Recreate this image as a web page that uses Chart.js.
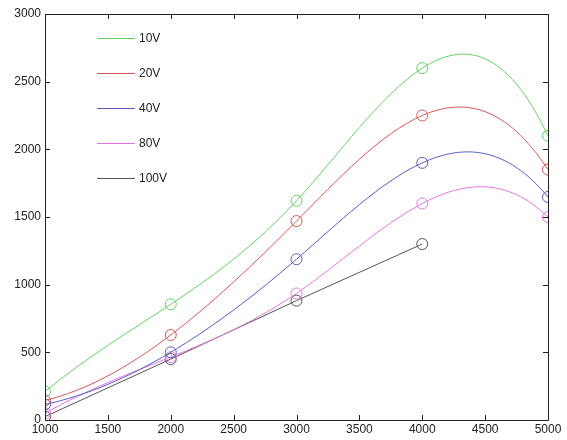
<!DOCTYPE html>
<html>
<head>
<meta charset="utf-8">
<script src="https://cdn.jsdelivr.net/npm/chart.js@4/dist/chart.umd.min.js"></script>
<style>
html,body{margin:0;padding:0;background:#fff;}
#wrap{width:567px;height:440px;position:relative;}
</style>
</head>
<body>
<div id="wrap"><canvas id="c" width="567" height="440"></canvas></div>
<script>
const xValues = [1000, 2000, 3000, 4000, 5000];
const v10  = [210, 855, 1620, 2600, 2100];
const v20  = [145, 628, 1470, 2250, 1850];
const v40  = [115, 500, 1188, 1900, 1648];
const v80  = [50, 465, 935, 1600, 1500];
const v100 = [25, 450, 882, 1300];
const seriesLabels = ['10V', '20V', '40V', '80V', '100V'];
const seriesColors = ['#5fd35f', '#d95555', '#5a5ac8', '#e573e5', '#555555'];
const smoothSeries = [true, true, true, true, false];
const yTicks = [0, 500, 1000, 1500, 2000, 2500, 3000];
const xTicks = [1000, 1500, 2000, 2500, 3000, 3500, 4000, 4500, 5000];

const allSeries = [v10, v20, v40, v80, v100];
const datasets = allSeries.map((vals, i) => ({
  label: seriesLabels[i],
  data: vals.map((v, j) => ({x: xValues[j], y: v})),
  borderColor: seriesColors[i],
  backgroundColor: 'transparent',
  borderWidth: 1,
  pointRadius: 5.5,
  pointBorderWidth: 1,
  pointBackgroundColor: 'transparent',
  pointBorderColor: seriesColors[i],
  tension: smoothSeries[i] ? 0.4 : 0,
  fill: false
}));

// not-a-knot cubic spline slopes (like MATLAB spline) for given x,y
function splineSlopes(x, y) {
  const n = x.length;
  const h = [];
  for (let i = 0; i < n - 1; i++) h.push(x[i + 1] - x[i]);
  const A = [], b = [];
  for (let i = 0; i < n; i++) { A.push(new Array(n).fill(0)); b.push(0); }
  // not-a-knot at start
  A[0][0] = 1 / h[0]; A[0][1] = -1 / h[0] - 1 / h[1]; A[0][2] = 1 / h[1]; b[0] = 0;
  for (let i = 1; i < n - 1; i++) {
    A[i][i - 1] = h[i - 1]; A[i][i] = 2 * (h[i - 1] + h[i]); A[i][i + 1] = h[i];
    b[i] = 6 * ((y[i + 1] - y[i]) / h[i] - (y[i] - y[i - 1]) / h[i - 1]);
  }
  A[n - 1][n - 3] = 1 / h[n - 3]; A[n - 1][n - 2] = -1 / h[n - 3] - 1 / h[n - 2]; A[n - 1][n - 1] = 1 / h[n - 2]; b[n - 1] = 0;
  // gaussian elimination
  for (let c = 0; c < n; c++) {
    let p = c;
    for (let r = c + 1; r < n; r++) if (Math.abs(A[r][c]) > Math.abs(A[p][c])) p = r;
    [A[c], A[p]] = [A[p], A[c]]; [b[c], b[p]] = [b[p], b[c]];
    for (let r = c + 1; r < n; r++) {
      const f = A[r][c] / A[c][c];
      for (let k = c; k < n; k++) A[r][k] -= f * A[c][k];
      b[r] -= f * b[c];
    }
  }
  const M = new Array(n).fill(0);
  for (let r = n - 1; r >= 0; r--) {
    let s = b[r];
    for (let k = r + 1; k < n; k++) s -= A[r][k] * M[k];
    M[r] = s / A[r][r];
  }
  const m = [];
  for (let i = 0; i < n - 1; i++) m.push((y[i + 1] - y[i]) / h[i] - h[i] * (2 * M[i] + M[i + 1]) / 6);
  m.push((y[n - 1] - y[n - 2]) / h[n - 2] + h[n - 2] * (M[n - 2] + 2 * M[n - 1]) / 6);
  return m;
}

const splinePlugin = {
  id: 'spline',
  beforeDatasetsDraw(chart) {
    const xs = chart.scales.x, ys = chart.scales.y;
    chart.data.datasets.forEach((ds, di) => {
      if (!smoothSeries[di]) return;
      const meta = chart.getDatasetMeta(di);
      const pts = meta.data;
      const xv = ds.data.map(d => d.x), yv = ds.data.map(d => d.y);
      if (xv.length < 4) return;
      const m = splineSlopes(xv, yv);
      for (let i = 0; i < pts.length; i++) {
        const p = pts[i];
        const hp = i > 0 ? xv[i] - xv[i - 1] : 0;
        const hn = i < pts.length - 1 ? xv[i + 1] - xv[i] : 0;
        p.cp1x = xs.getPixelForValue(xv[i] - hp / 3);
        p.cp1y = ys.getPixelForValue(yv[i] - m[i] * hp / 3);
        p.cp2x = xs.getPixelForValue(xv[i] + hn / 3);
        p.cp2y = ys.getPixelForValue(yv[i] + m[i] * hn / 3);
      }
      if (meta.dataset) {
        meta.dataset._pointsUpdated = true;
        meta.dataset._path = undefined;
      }
    });
  }
};

const framePlugin = {
  id: 'frame',
  afterDatasetsDraw(chart) {
    const ctx = chart.ctx, a = chart.chartArea;
    const xs = chart.scales.x, ys = chart.scales.y;
    ctx.save();
    ctx.strokeStyle = '#222';
    ctx.lineWidth = 1;
    ctx.beginPath();
    ctx.rect(Math.round(a.left) + 0.5, Math.round(a.top) + 0.5, Math.round(a.right - a.left), Math.round(a.bottom - a.top));
    ctx.stroke();
    const L = 5;
    ctx.beginPath();
    xTicks.forEach(t => {
      const px = Math.round(xs.getPixelForValue(t)) + 0.5;
      ctx.moveTo(px, a.bottom); ctx.lineTo(px, a.bottom - L);
      ctx.moveTo(px, a.top); ctx.lineTo(px, a.top + L);
    });
    yTicks.forEach(t => {
      const py = Math.round(ys.getPixelForValue(t)) + 0.5;
      ctx.moveTo(a.left, py); ctx.lineTo(a.left + L, py);
      ctx.moveTo(a.right, py); ctx.lineTo(a.right - L, py);
    });
    ctx.stroke();
    // legend inside plot
    ctx.font = '12px "Liberation Sans", Arial, sans-serif';
    ctx.textBaseline = 'middle';
    ctx.textAlign = 'left';
    chart.data.datasets.forEach((ds, i) => {
      const y = 38.5 + i * 35;
      ctx.strokeStyle = ds.borderColor;
      ctx.beginPath();
      ctx.moveTo(97, y); ctx.lineTo(135, y);
      ctx.stroke();
      ctx.fillStyle = '#222';
      ctx.fillText(ds.label, 139, y);
    });
    ctx.restore();
  }
};

const tickFont = { family: '"Liberation Sans", Arial, sans-serif', size: 12 };

new Chart(document.getElementById('c'), {
  type: 'line',
  data: { datasets },
  options: {
    responsive: false,
    animation: false,
    layout: { padding: { top: 14, right: 19, left: 0, bottom: 0 } },
    plugins: { legend: { display: false }, tooltip: { enabled: false } },
    scales: {
      x: {
        type: 'linear', min: 1000, max: 5000,
        afterBuildTicks: s => { s.ticks = xTicks.map(v => ({value: v})); },
        afterFit: s => { s.height = 20; },
        grid: { display: false, drawTicks: false },
        border: { display: false },
        ticks: { color: '#222', font: tickFont, padding: 2, maxRotation: 0, autoSkip: false, callback: v => String(v) }
      },
      y: {
        type: 'linear', min: 0, max: 3000,
        afterBuildTicks: s => { s.ticks = yTicks.map(v => ({value: v})); },
        afterFit: s => { s.width = 45; },
        grid: { display: false, drawTicks: false },
        border: { display: false },
        ticks: { color: '#222', font: tickFont, padding: 4, callback: v => String(v) }
      }
    }
  },
  plugins: [splinePlugin, framePlugin]
});
</script>
</body>
</html>
